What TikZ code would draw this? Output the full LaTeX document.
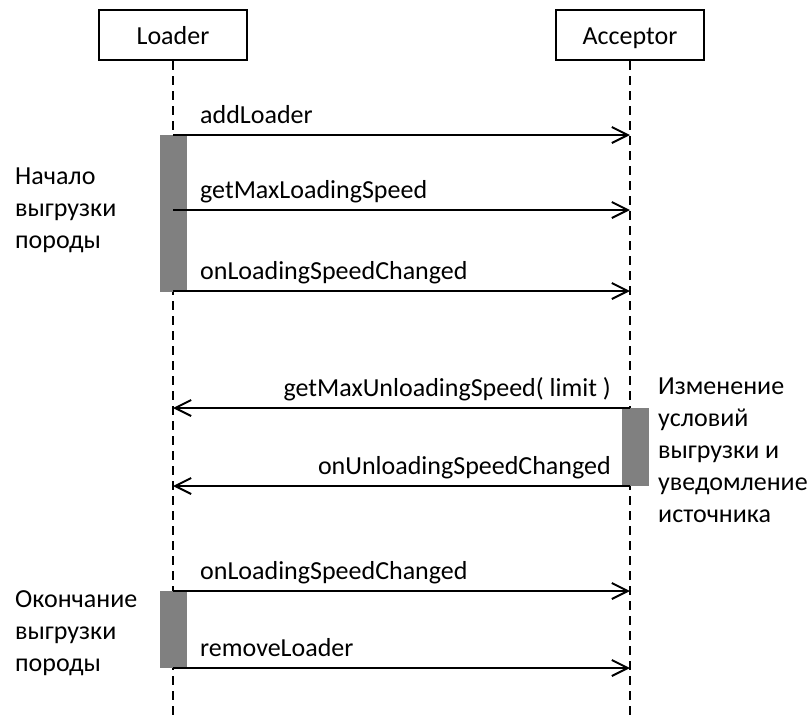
\documentclass[tikz,border=0pt]{standalone}
\usepackage{fontspec}
\setmainfont{Carlito}
\usetikzlibrary{arrows.meta}
\definecolor{barfill}{RGB}{128,128,128}
\begin{document}
\begin{tikzpicture}[x=1pt,y=-1pt,
  every node/.style={font=\fontsize{26}{32}\selectfont, inner sep=0pt},
  actor/.style={draw, line width=2pt, minimum width=148pt, minimum height=50pt,
    text height=20pt, text depth=2pt},
  lifeline/.style={line width=2pt, dash pattern=on 9pt off 6pt},
  activation/.style={fill=barfill, draw=none},
  msg/.style={line width=2pt, -{Straight Barb[length=16pt,width=16pt,line width=2pt]}},
  lblr/.style={anchor=base west},
  lbll/.style={anchor=base east},
  note/.style={align=left, anchor=west}]
\useasboundingbox (0,0) rectangle (811,716);

% participants
\node[actor] (loader) at (173,35) {Loader};
\node[actor] (acceptor) at (630,35) {Acceptor};

% lifelines
\coordinate (loaderEnd) at (173,716);
\coordinate (acceptorEnd) at (630,716);
\draw[lifeline] (loader.south) -- (loaderEnd);
\draw[lifeline] (acceptor.south) -- (acceptorEnd);

% activation bars
\fill[activation] (160,135) rectangle (187,292);
\fill[activation] (622,408) rectangle (649,486);
\fill[activation] (160,591) rectangle (187,668);

% message end points
\coordinate (l1) at (173,135); \coordinate (a1) at (630,135);
\coordinate (l2) at (173,210); \coordinate (a2) at (630,210);
\coordinate (l3) at (173,291); \coordinate (a3) at (630,291);
\coordinate (l4) at (173,408); \coordinate (a4) at (630,408);
\coordinate (l5) at (173,486); \coordinate (a5) at (630,486);
\coordinate (l6) at (173,591); \coordinate (a6) at (630,591);
\coordinate (l7) at (173,668); \coordinate (a7) at (630,668);

% messages
\draw[msg] (l1) -- (a1);
\draw[msg] (l2) -- (a2);
\draw[msg] (l3) -- (a3);
\draw[msg] (a4) -- (l4);
\draw[msg] (a5) -- (l5);
\draw[msg] (l6) -- (a6);
\draw[msg] (l7) -- (a7);

% message labels
\node[lblr] (t1) at (200,123) {addLoader};
\node[lblr] (t2) at (200,198) {getMaxLoadingSpeed};
\node[lblr] (t3) at (200,279) {onLoadingSpeedChanged};
\node[lbll] (t4) at (611,396) {getMaxUnloadingSpeed( limit )};
\node[lbll] (t5) at (611,474) {onUnloadingSpeedChanged};
\node[lblr] (t6) at (200,579) {onLoadingSpeedChanged};
\node[lblr] (t7) at (200,656) {removeLoader};

% notes
\node[note] (n1) at (15,210) {Начало\\выгрузки\\породы};
\node[note] (n2) at (658,450) {Изменение\\условий\\выгрузки и\\уведомление\\источника};
\node[note] (n3) at (15,633) {Окончание\\выгрузки\\породы};
\end{tikzpicture}
\end{document}
